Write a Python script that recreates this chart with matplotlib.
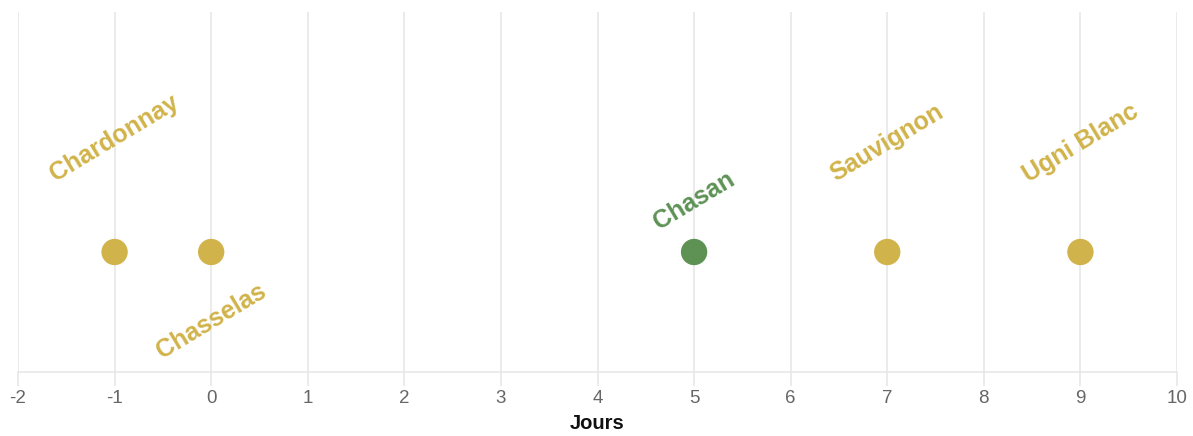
import numpy as np
import matplotlib.pyplot as plt

# cépages et jours
cepages = ["Chardonnay", "Chasselas", "Chasan", "Sauvignon", "Ugni Blanc"]
jours = [-1, 0, 5, 7, 9]
couleurs = ["#D1B34B", "#D1B34B", "#5E9255", "#D1B34B", "#D1B34B"]
label_y = [0.95, -0.58, 0.43, 0.91, 0.91]
ticks = list(range(-2, 11))

GRID = "#e6e6e6"

fig = plt.figure(figsize=(11.93, 4.36), dpi=100)
ax = fig.add_axes([18 / 1193, 64 / 436, 1159 / 1193, 360 / 436])

ax.set_xlim(-2, 10)
ax.set_ylim(-1, 2)

ax.scatter(jours, np.zeros(len(jours)), s=360, c=couleurs, zorder=3, linewidths=0)

for name, x, y, c in zip(cepages, jours, label_y, couleurs):
    ax.text(x, y, name, rotation=31, rotation_mode="anchor", ha="center", va="center",
            color=c, fontsize=18, fontweight="bold", family="Liberation Sans", zorder=4)

ax.set_xticks(ticks)
ax.set_xticklabels([str(t) for t in ticks], family="Liberation Sans")
ax.set_yticks([])
ax.grid(axis="x", color=GRID, linewidth=1.1, zorder=0)
for s in ["top", "right", "left"]:
    ax.spines[s].set_visible(False)
ax.spines["bottom"].set_color(GRID)
ax.spines["bottom"].set_linewidth(1.1)
ax.tick_params(axis="x", length=10, width=1.1, color=GRID, labelcolor="#666666",
               labelsize=13.5, pad=3)
ax.set_xlabel("Jours", fontsize=14.5, fontweight="bold", family="Liberation Sans",
              color="#111111", labelpad=5)

fig.savefig("out.png", dpi=100)
